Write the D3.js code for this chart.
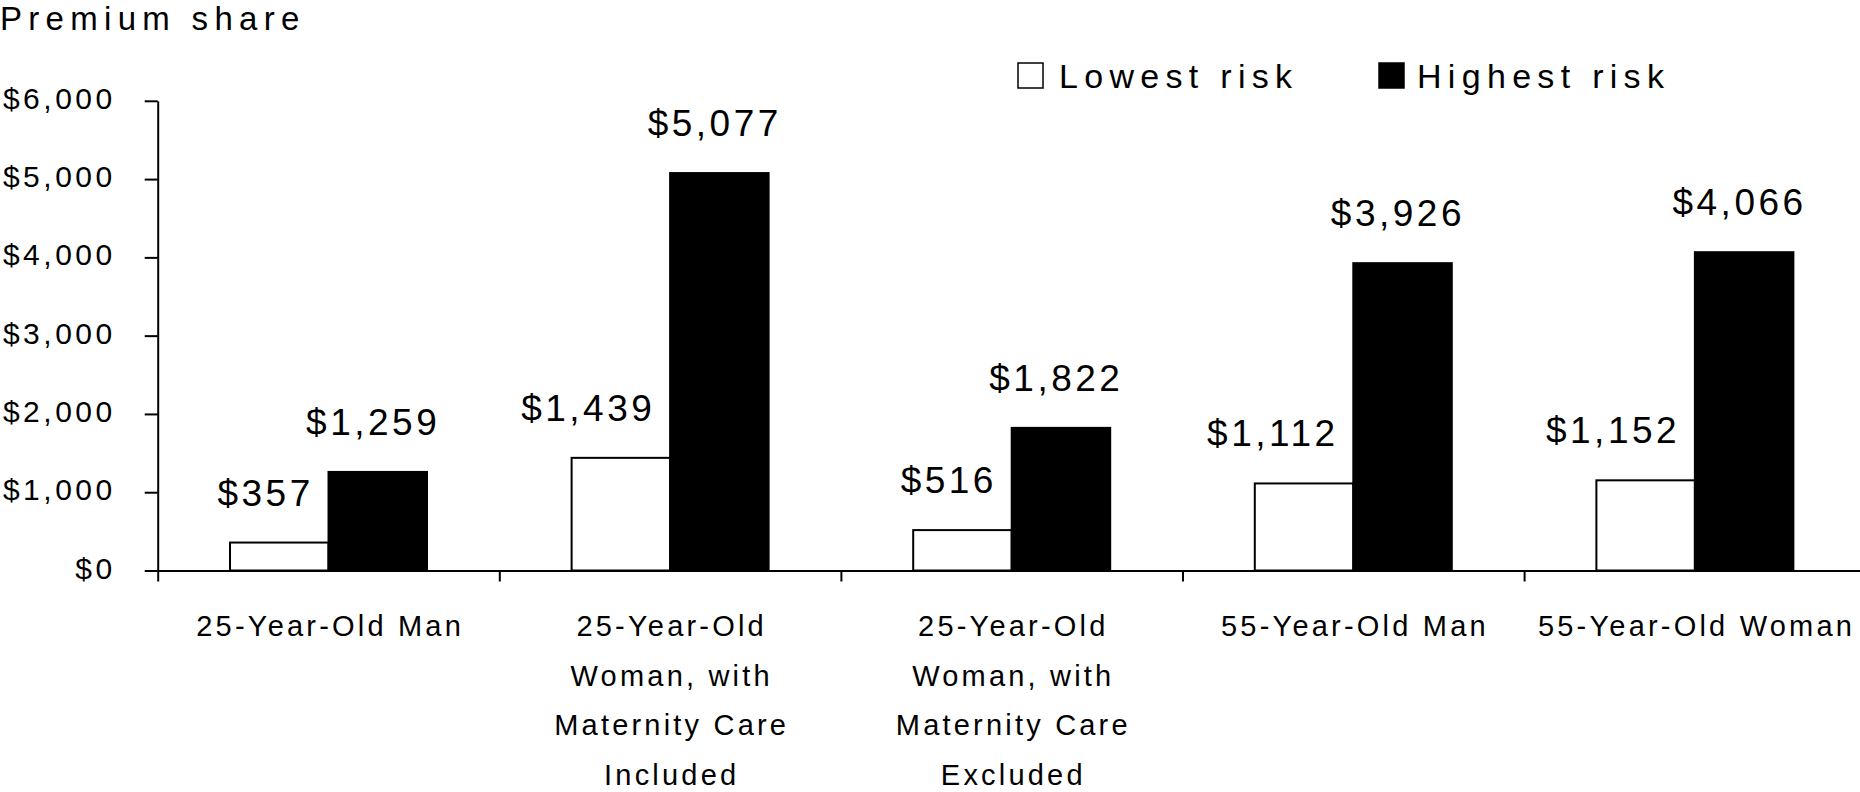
<!DOCTYPE html>
<html>
<head>
    <style type="text/css">
        body { margin: 0; background: #fff; }
        #mySvg { width: 1860px; height: 792px; display: block; }
        text { font-family: "Liberation Sans", Arial, sans-serif; fill: #000; }
        .title { font-size: 33px; letter-spacing: 6.3px; }
        .tick text { font-size: 30px; letter-spacing: 3.5px; }
        .valueLabel { font-size: 37px; letter-spacing: 3.5px; }
        .catLabel { font-size: 29px; letter-spacing: 3.2px; text-anchor: middle; }
        .legendText { font-size: 34px; letter-spacing: 6.3px; }
    </style>
    <script src="https://d3js.org/d3.v7.min.js"></script>
</head>
<body>
    <svg id="mySvg"></svg>
<script type="text/javascript">
// chart values
const categories = ['25-Year-Old Man', '25-Year-Old Woman, with Maternity Care Included',
    '25-Year-Old Woman, with Maternity Care Excluded', '55-Year-Old Man', '55-Year-Old Woman'];
const categoryLines = [
    ['25-Year-Old Man'],
    ['25-Year-Old', 'Woman, with', 'Maternity Care', 'Included'],
    ['25-Year-Old', 'Woman, with', 'Maternity Care', 'Excluded'],
    ['55-Year-Old Man'],
    ['55-Year-Old Woman']
];
const seriesNames = ['Lowest risk', 'Highest risk'];
const lowestRisk = [357, 1439, 516, 1112, 1152];
const highestRisk = [1259, 5077, 1822, 3926, 4066];
const yTicks = [0, 1000, 2000, 3000, 4000, 5000, 6000];

const svg = d3.select('#mySvg');

const left = 157.7, step = 341.6;
const y = d3.scaleLinear().domain([0, 6000]).range([570.5, 100.8]);
const x0 = d3.scaleBand()
    .domain(categories)
    .range([left, left + categories.length * step])
    .paddingInner(0.4233)
    .paddingOuter(0.2117);
const x1 = d3.scaleBand().domain(seriesNames).range([0, x0.bandwidth()]);
const fmt = v => '$' + d3.format(',')(v);

// title
svg.append('text').attr('class', 'title').attr('x', 0).attr('y', 30).text('Premium share');

// bars, one group per category
const rows = categories.map((c, i) => ({
    cat: c,
    vals: [{ s: seriesNames[0], v: lowestRisk[i] }, { s: seriesNames[1], v: highestRisk[i] }]
}));

const groups = svg.append('g')
    .selectAll('g')
    .data(rows)
    .enter()
    .append('g')
    .attr('transform', d => 'translate(' + x0(d.cat) + ',0)');

groups.selectAll('rect')
    .data(d => d.vals)
    .enter()
    .append('rect')
    .attr('x', d => x1(d.s))
    .attr('y', d => y(d.v))
    .attr('width', x1.bandwidth())
    .attr('height', d => y(0) - y(d.v))
    .attr('fill', d => d.s === seriesNames[0] ? '#fff' : '#000')
    .attr('stroke', '#000')
    .attr('stroke-width', 2);

// value labels (end-anchored, offset right of bar centre like the source)
groups.selectAll('text.valueLabel')
    .data(d => d.vals)
    .enter()
    .append('text')
    .attr('class', 'valueLabel')
    .attr('text-anchor', 'end')
    .attr('x', d => x1(d.s) + x1.bandwidth() / 2 + (d.s === seriesNames[0] ? 34.5 : 62.5))
    .attr('y', d => y(d.v) - 37)
    .text(d => fmt(d.v));

// y axis
const yAxis = svg.append('g')
    .attr('transform', 'translate(' + left + ',0)')
    .call(d3.axisLeft(y).tickValues(yTicks).tickSize(13).tickSizeOuter(0).tickPadding(29).tickFormat(fmt));
yAxis.selectAll('text').attr('dy', '0.25em').attr('font-family', null).attr('font-size', null);
yAxis.selectAll('path, line').attr('stroke', '#000').attr('stroke-width', 2);

// x axis with ticks on category boundaries
const xb = d3.scaleLinear().domain([0, categories.length]).range([left, left + categories.length * step]);
const xAxis = svg.append('g')
    .attr('transform', 'translate(0,' + y(0) + ')')
    .call(d3.axisBottom(xb).tickValues(d3.range(categories.length + 1)).tickSize(11).tickSizeOuter(0).tickFormat(''));
xAxis.selectAll('path, line').attr('stroke', '#000').attr('stroke-width', 2);

// category labels
svg.append('g')
    .selectAll('text')
    .data(categories)
    .enter()
    .append('text')
    .attr('class', 'catLabel')
    .attr('transform', d => 'translate(' + (x0(d) + x0.bandwidth() / 2 + 1.6) + ',636)')
    .selectAll('tspan')
    .data((d, i) => categoryLines[i])
    .enter()
    .append('tspan')
    .attr('x', 0)
    .attr('y', (d, i) => i * 49.6)
    .text(d => d);

// legend
const legendX = [1017, 1378];
const legend = svg.append('g')
    .selectAll('g')
    .data(seriesNames)
    .enter()
    .append('g')
    .attr('transform', (d, i) => 'translate(' + legendX[i] + ',62)');
legend.append('rect')
    .attr('x', 1).attr('y', 1)
    .attr('width', 25).attr('height', 25)
    .attr('fill', (d, i) => i === 0 ? '#fff' : '#000')
    .attr('stroke', '#000')
    .attr('stroke-width', 1.5);
legend.append('text')
    .attr('class', 'legendText')
    .attr('x', (d, i) => i === 0 ? 42 : 39)
    .attr('y', 25.5)
    .text(d => d);
</script>
</body>
</html>
